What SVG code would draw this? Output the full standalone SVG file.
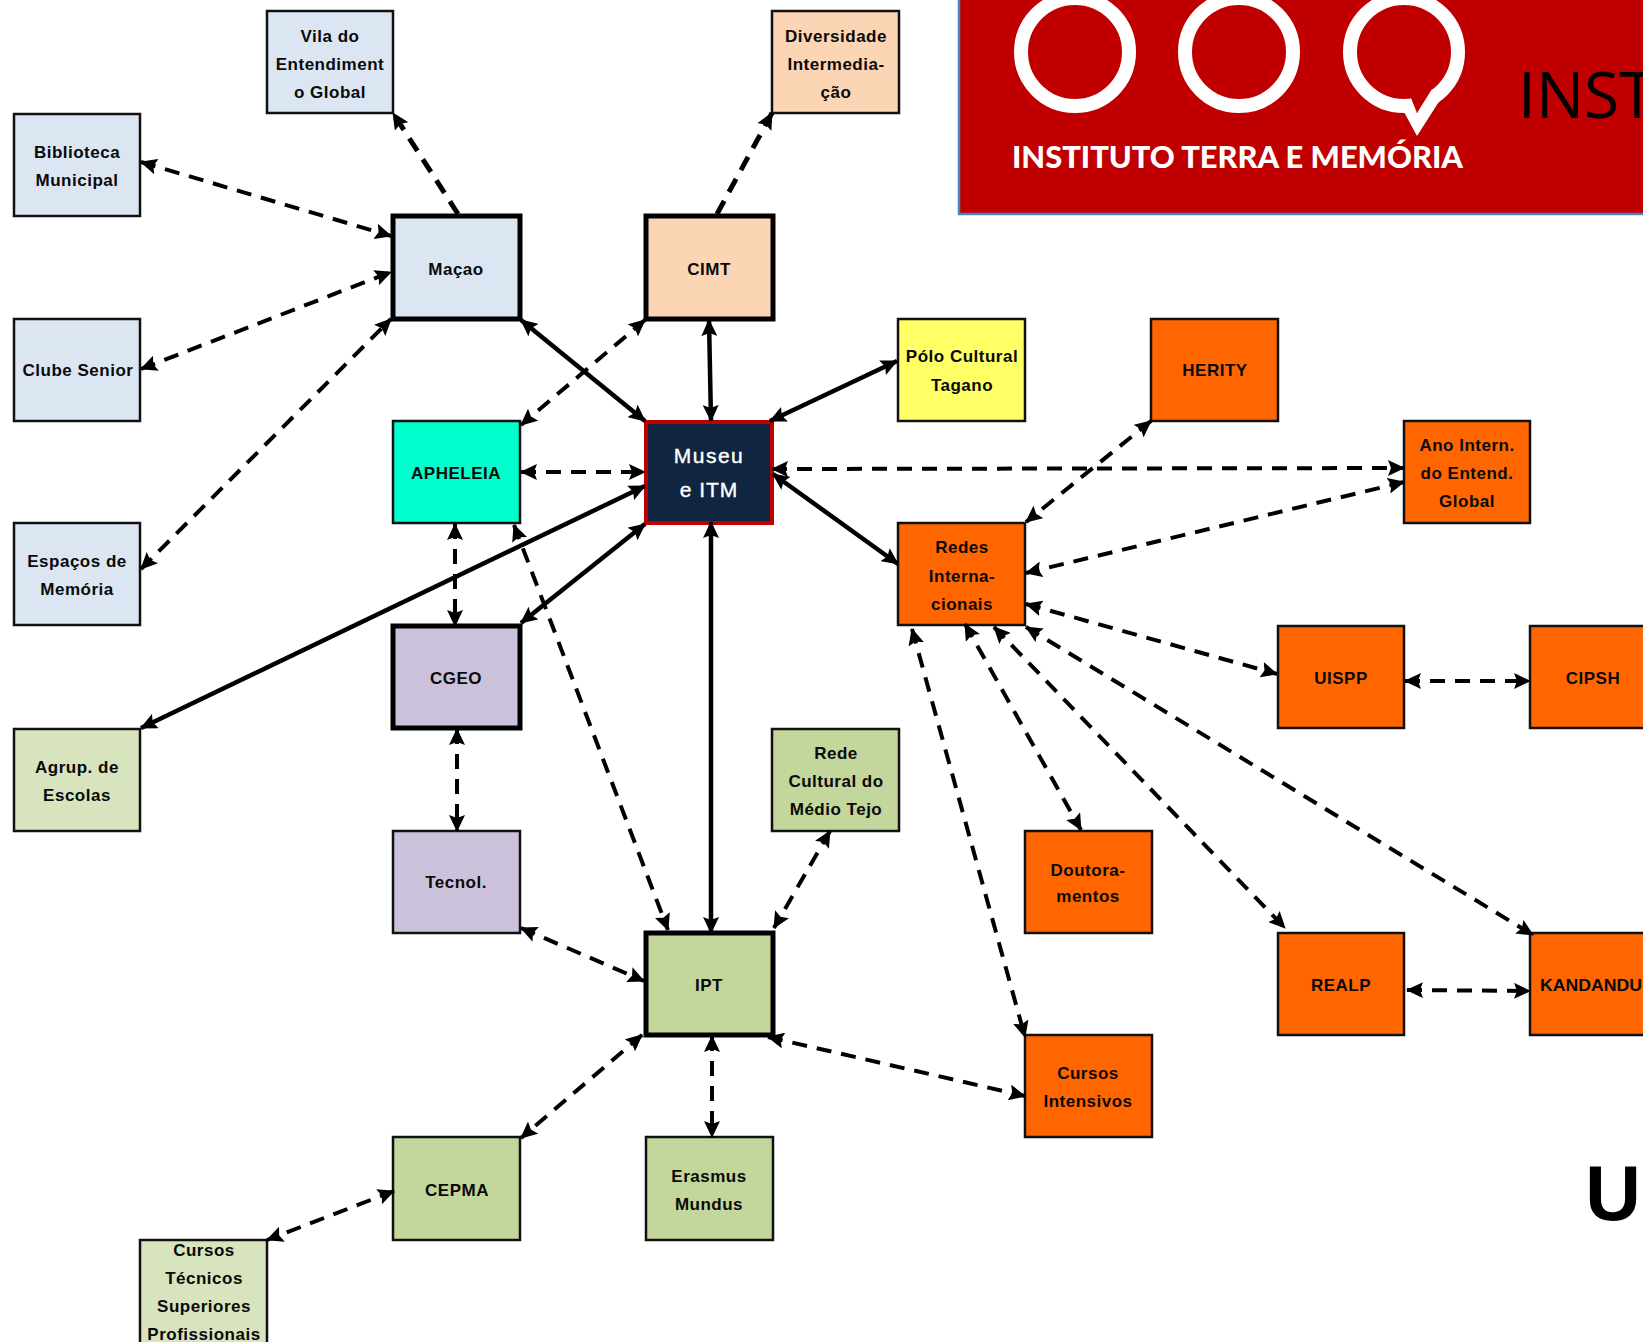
<svg xmlns="http://www.w3.org/2000/svg" width="1643" height="1342" viewBox="0 0 1643 1342">
<style>
text{font-family:"Liberation Sans",Arial,sans-serif;font-size:17px;font-weight:700;text-anchor:middle;letter-spacing:.5px;fill:#0a0a0a}
.n{stroke:#111;stroke-width:2.5}
.t{stroke:#000;stroke-width:5}
.b{fill:#dce6f2}.p{fill:#fcd5b5}.o{fill:#ff6600}.v{fill:#ccc1da}.lg{fill:#d7e4bd}.g{fill:#c3d69b}
.s{fill:none;stroke:#000;stroke-width:4.5;marker-start:url(#a);marker-end:url(#a)}
.d{fill:none;stroke:#000;stroke-width:4;stroke-dasharray:15 10;marker-start:url(#a);marker-end:url(#a)}
.e{marker-start:none;stroke-width:5}
</style>
<defs>
<marker id="a" markerUnits="userSpaceOnUse" markerWidth="18" markerHeight="16" refX="16" refY="8" orient="auto-start-reverse"><path d="M0 0L17 8L0 16L3 8Z" fill="#000"/></marker>
</defs>
<rect width="1643" height="1342" fill="#fff"/>
<g id="logo">
<rect x="959" y="-4" width="690" height="218" fill="#c00000" stroke="#4f81bd" stroke-width="2.5"/>
<g fill="none" stroke="#fff" stroke-width="14"><circle cx="1075" cy="52" r="54"/><circle cx="1239" cy="52" r="54"/><circle cx="1404" cy="52" r="54"/></g>
<polygon points="1404,112 1417,136 1440,100 1432,89 1417,113 1411,98" fill="#fff"/>
<polygon points="1411,98 1417,113 1432,89 1420,95" fill="#c00000"/>
<text x="1012" y="168" textLength="451" lengthAdjust="spacingAndGlyphs" style="font-family:Lato,'Liberation Sans',sans-serif;font-size:31px;font-weight:900;text-anchor:start;fill:#fff;letter-spacing:0">INSTITUTO TERRA E MEMÓRIA</text>
<text x="1518" y="118" style="font-family:'Open Sans','Liberation Sans',sans-serif;font-size:64px;font-weight:400;text-anchor:start;fill:#000;letter-spacing:0">INST</text>
</g>
<text id="u" x="1613" y="1220" style="font-size:77px;fill:#000;letter-spacing:0">U</text>
<g id="nodes">
<g id="vila"><rect class="n b" x="267" y="11" width="126" height="102"/><text x="330" y="42">Vila do</text><text x="330" y="70">Entendiment</text><text x="330" y="98">o Global</text></g>
<g id="diversidade"><rect class="n p" x="772" y="11" width="127" height="102"/><text x="836" y="42">Diversidade</text><text x="836" y="70">Intermedia-</text><text x="836" y="98">ção</text></g>
<g id="biblioteca"><rect class="n b" x="14" y="114" width="126" height="102"/><text x="77" y="158">Biblioteca</text><text x="77" y="186">Municipal</text></g>
<g id="macao"><rect class="t b" x="393" y="216" width="127" height="103"/><text x="456" y="275">Maçao</text></g>
<g id="cimt"><rect class="t p" x="646" y="216" width="127" height="103"/><text x="709" y="275">CIMT</text></g>
<g id="clube"><rect class="n b" x="14" y="319" width="126" height="102"/><text x="78" y="376">Clube Senior</text></g>
<g id="polo"><rect class="n" fill="#ffff66" x="898" y="319" width="127" height="102"/><text x="962" y="362">Pólo Cultural</text><text x="962" y="391">Tagano</text></g>
<g id="herity"><rect class="n o" x="1151" y="319" width="127" height="102"/><text x="1215" y="376">HERITY</text></g>
<g id="apheleia"><rect class="n" fill="#00ffcc" x="393" y="421" width="127" height="102"/><text x="456" y="479">APHELEIA</text></g>
<g id="museu"><rect x="646" y="422" width="126" height="101" fill="#10253f" stroke="#c00000" stroke-width="4"/><text x="709" y="463" style="fill:#fff;font-size:21px;font-weight:400;letter-spacing:1.5px;stroke:#fff;stroke-width:.4">Museu</text><text x="709" y="497" style="fill:#fff;font-size:21px;font-weight:400;letter-spacing:1px;stroke:#fff;stroke-width:.4">e ITM</text></g>
<g id="ano"><rect class="n o" x="1404" y="421" width="126" height="102"/><text x="1467" y="451">Ano Intern.</text><text x="1467" y="479">do Entend.</text><text x="1467" y="507">Global</text></g>
<g id="espacos"><rect class="n b" x="14" y="523" width="126" height="102"/><text x="77" y="567">Espaços de</text><text x="77" y="595">Memória</text></g>
<g id="redes"><rect class="n o" x="898" y="523" width="127" height="102"/><text x="962" y="553">Redes</text><text x="962" y="582">Interna-</text><text x="962" y="610">cionais</text></g>
<g id="cgeo"><rect class="t v" x="393" y="626" width="127" height="102"/><text x="456" y="684">CGEO</text></g>
<g id="uispp"><rect class="n o" x="1278" y="626" width="126" height="102"/><text x="1341" y="684">UISPP</text></g>
<g id="cipsh"><rect class="n o" x="1530" y="626" width="126" height="102"/><text x="1593" y="684">CIPSH</text></g>
<g id="agrup"><rect class="n lg" x="14" y="729" width="126" height="102"/><text x="77" y="773">Agrup. de</text><text x="77" y="801">Escolas</text></g>
<g id="rede"><rect class="n g" x="772" y="729" width="127" height="102"/><text x="836" y="759">Rede</text><text x="836" y="787">Cultural do</text><text x="836" y="815">Médio Tejo</text></g>
<g id="tecnol"><rect class="n v" x="393" y="831" width="127" height="102"/><text x="456" y="888">Tecnol.</text></g>
<g id="doutoramentos"><rect class="n o" x="1025" y="831" width="127" height="102"/><text x="1088" y="876">Doutora-</text><text x="1088" y="902">mentos</text></g>
<g id="ipt"><rect class="t g" x="646" y="933" width="127" height="102"/><text x="709" y="991">IPT</text></g>
<g id="realp"><rect class="n o" x="1278" y="933" width="126" height="102"/><text x="1341" y="991">REALP</text></g>
<g id="kandandu"><rect class="n o" x="1530" y="933" width="126" height="102"/><text x="1540" y="991" textLength="102" lengthAdjust="spacingAndGlyphs" style="text-anchor:start;letter-spacing:0">KANDANDU</text></g>
<g id="cursosint"><rect class="n o" x="1025" y="1035" width="127" height="102"/><text x="1088" y="1079">Cursos</text><text x="1088" y="1107">Intensivos</text></g>
<g id="cepma"><rect class="n g" x="393" y="1137" width="127" height="103"/><text x="457" y="1196">CEPMA</text></g>
<g id="erasmus"><rect class="n g" x="646" y="1137" width="127" height="103"/><text x="709" y="1182">Erasmus</text><text x="709" y="1210">Mundus</text></g>
<g id="cursostec"><rect class="n lg" x="140" y="1240" width="127" height="104"/><text x="204" y="1256">Cursos</text><text x="204" y="1284">Técnicos</text><text x="204" y="1312">Superiores</text><text x="204" y="1340">Profissionais</text></g>
</g>
<g id="connectors">
<line class="d" x1="141" y1="162" x2="391" y2="236"/>
<line class="d" x1="141" y1="369" x2="391" y2="272"/>
<line class="d" x1="141" y1="569" x2="391" y2="319"/>
<line class="d e" x1="458" y1="214" x2="393" y2="113"/>
<line class="d e" x1="717" y1="214" x2="772" y2="113"/>
<line class="s" x1="521" y1="320" x2="645" y2="421"/>
<line class="d" x1="645" y1="320" x2="521" y2="425"/>
<line class="s" x1="709" y1="320" x2="711" y2="421"/>
<line class="s" x1="897" y1="361" x2="770" y2="421"/>
<line class="d" x1="521" y1="472" x2="645" y2="472"/>
<line class="d" x1="772" y1="469" x2="1404" y2="468"/>
<line class="s" x1="773" y1="474" x2="898" y2="564"/>
<line class="d" x1="1151" y1="421" x2="1026" y2="522"/>
<line class="d" x1="1404" y1="482" x2="1026" y2="573"/>
<line class="d" x1="1026" y1="604" x2="1277" y2="674"/>
<line class="d" x1="1405" y1="681" x2="1530" y2="681"/>
<line class="d" x1="1026" y1="627" x2="1533" y2="935"/>
<line class="d" x1="994" y1="627" x2="1285" y2="928"/>
<line class="d" x1="965" y1="624" x2="1081" y2="830"/>
<line class="d" x1="912" y1="629" x2="1025" y2="1037"/>
<line class="d" x1="1407" y1="990" x2="1530" y2="991"/>
<line class="d" x1="514" y1="525" x2="668" y2="930"/>
<line class="s" x1="645" y1="486" x2="141" y2="728"/>
<line class="s" x1="645" y1="524" x2="521" y2="623"/>
<line class="d" x1="455" y1="524" x2="455" y2="626"/>
<line class="d" x1="457" y1="729" x2="457" y2="831"/>
<line class="s" x1="711" y1="522" x2="711" y2="933"/>
<line class="d" x1="830" y1="831" x2="774" y2="928"/>
<line class="d" x1="521" y1="928" x2="644" y2="981"/>
<line class="d" x1="642" y1="1035" x2="521" y2="1138"/>
<line class="d" x1="712" y1="1036" x2="712" y2="1137"/>
<line class="d" x1="768" y1="1037" x2="1025" y2="1096"/>
<line class="d" x1="394" y1="1191" x2="267" y2="1240"/>
</g>
</svg>
